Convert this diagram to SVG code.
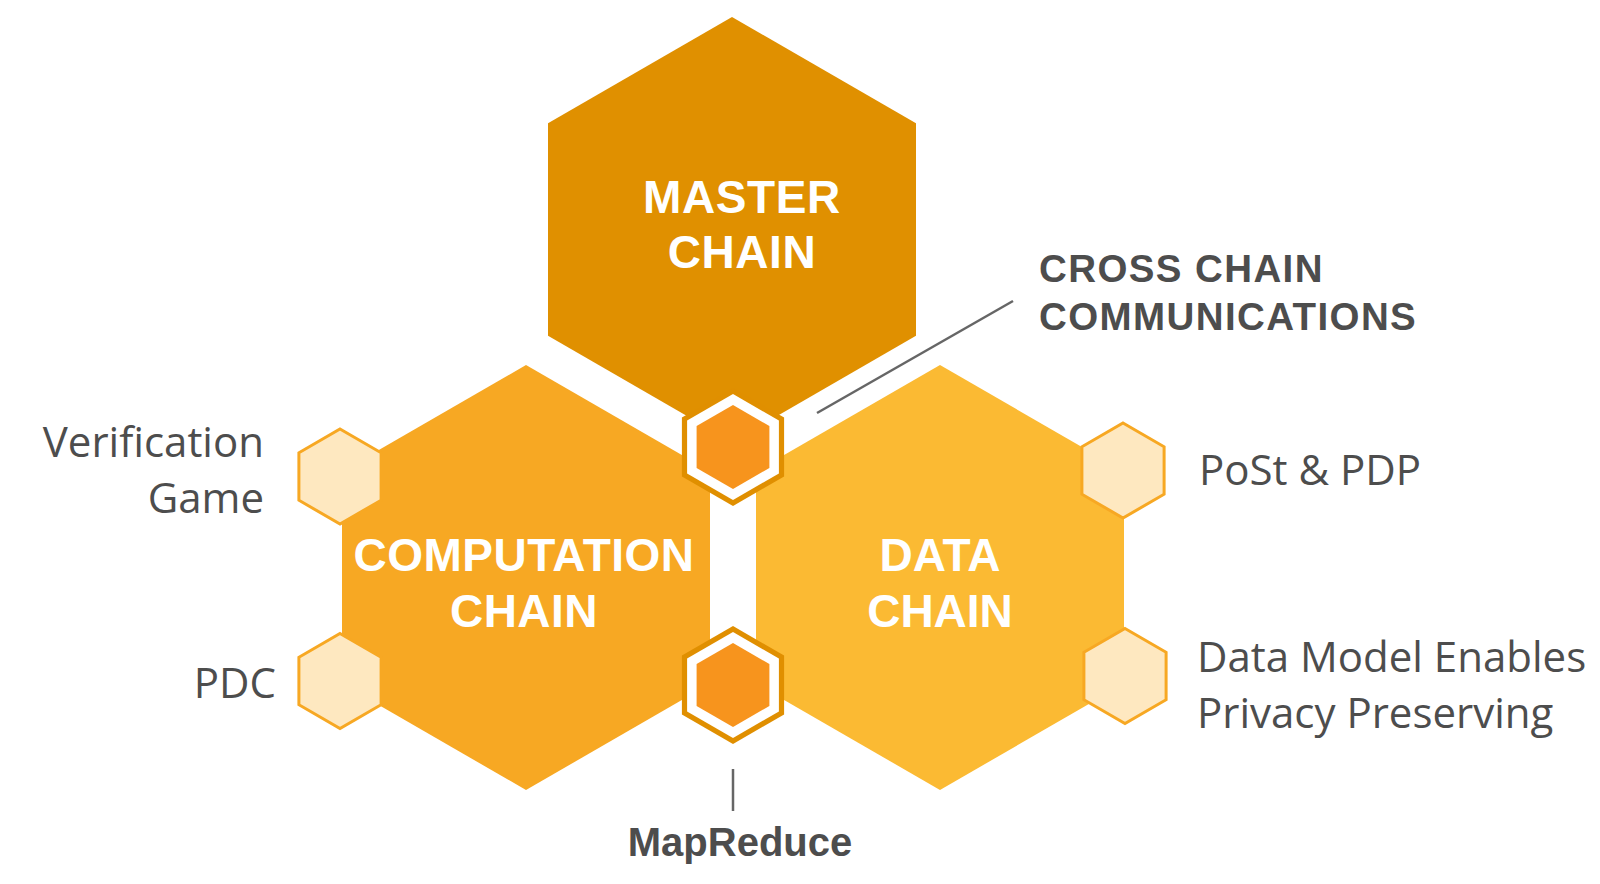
<svg xmlns="http://www.w3.org/2000/svg" width="1600" height="884" viewBox="0 0 1600 884">
  <style>
    .bg { fill: #ffffff; }
    .master { fill: #E09000; }
    .comp { fill: #F7A823; }
    .data { fill: #FBBA33; }
    .ring { fill: #E08F00; }
    .gap { fill: #ffffff; }
    .core { fill: #F7941D; }
    .pale { fill: #FEE8C0; stroke: #F7A823; stroke-width: 3; stroke-linejoin: miter; }
    .big { font-family: "Liberation Sans", Arial, sans-serif; font-weight: bold; font-size: 46px; fill: #ffffff; text-anchor: middle; }
    .lbl { font-family: "Open Sans", "Noto Sans", sans-serif; font-size: 42px; fill: #4D4D4D; }
    .blbl { font-family: "Liberation Sans", Arial, sans-serif; font-weight: bold; fill: #4D4D4D; }
    .lead { stroke: #666666; stroke-width: 2.5; fill: none; }
  </style>
  <rect class="bg" x="0" y="0" width="1600" height="884"/>

  <g id="node-master">
    <polygon class="master" points="732,17 916,123.25 916,335.75 732,442 548,335.75 548,123.25"/>
    <text class="big" x="742" y="213" letter-spacing="0.6">MASTER</text>
    <text class="big" x="742" y="268" letter-spacing="0.6">CHAIN</text>
  </g>

  <g id="node-computation">
    <polygon class="comp" points="526,365 710,471.25 710,683.75 526,790 342,683.75 342,471.25"/>
  </g>

  <g id="node-data">
    <polygon class="data" points="940,365 1124,471.25 1124,683.75 940,790 756,683.75 756,471.25"/>
  </g>

  <g id="node-verification">
    <polygon class="pale" points="340,429 381.1,452.75 381.1,500.25 340,524 298.9,500.25 298.9,452.75"/>
    <text class="lbl" x="264" y="457" text-anchor="end">Verification</text>
    <text class="lbl" x="264" y="513" text-anchor="end">Game</text>
  </g>

  <g id="node-pdc">
    <polygon class="pale" points="340,633.5 381.1,657.25 381.1,704.75 340,728.5 298.9,704.75 298.9,657.25"/>
    <text class="lbl" x="276" y="698" text-anchor="end">PDC</text>
  </g>

  <g id="node-post">
    <polygon class="pale" points="1123,423 1164.1,446.75 1164.1,494.25 1123,518 1081.9,494.25 1081.9,446.75"/>
    <text class="lbl" x="1199" y="485">PoSt &amp; PDP</text>
  </g>

  <g id="node-privacy">
    <polygon class="pale" points="1125,628.5 1166.1,652.25 1166.1,699.75 1125,723.5 1083.9,699.75 1083.9,652.25"/>
    <text class="lbl" x="1197" y="672">Data Model Enables</text>
    <text class="lbl" x="1197" y="728">Privacy Preserving</text>
  </g>

  <g id="node-computation-label">
    <text class="big" x="524" y="571" letter-spacing="0.5">COMPUTATION</text>
    <text class="big" x="524" y="627" letter-spacing="0.5">CHAIN</text>
  </g>

  <g id="node-data-label">
    <text class="big" x="940" y="571">DATA</text>
    <text class="big" x="940" y="627">CHAIN</text>
  </g>

  <g id="node-cross-hex">
    <polygon class="ring" points="733,388 784.1,417.5 784.1,476.5 733,506 681.9,476.5 681.9,417.5"/>
    <polygon class="gap" points="733,394 778.9,420.5 778.9,473.5 733,500 687.1,473.5 687.1,420.5"/>
    <polygon class="core" points="733,405 769.4,426 769.4,468 733,489 696.6,468 696.6,426"/>
  </g>

  <g id="node-mapreduce-hex">
    <polygon class="ring" points="733,626 784.1,655.5 784.1,714.5 733,744 681.9,714.5 681.9,655.5"/>
    <polygon class="gap" points="733,632 778.9,658.5 778.9,711.5 733,738 687.1,711.5 687.1,658.5"/>
    <polygon class="core" points="733,643 769.4,664 769.4,706 733,727 696.6,706 696.6,664"/>
  </g>

  <g id="connectors">
    <line class="lead" x1="817" y1="413" x2="1013" y2="301"/>
    <line class="lead" x1="733" y1="769" x2="733" y2="811"/>
  </g>

  <g id="node-cross-label">
    <text class="blbl" x="1039" y="282" font-size="38.5" letter-spacing="1.4">CROSS CHAIN</text>
    <text class="blbl" x="1039" y="330" font-size="38.5" letter-spacing="1.4">COMMUNICATIONS</text>
  </g>

  <g id="node-mapreduce-label">
    <text class="blbl" x="740" y="856" font-size="40" text-anchor="middle">MapReduce</text>
  </g>
</svg>
